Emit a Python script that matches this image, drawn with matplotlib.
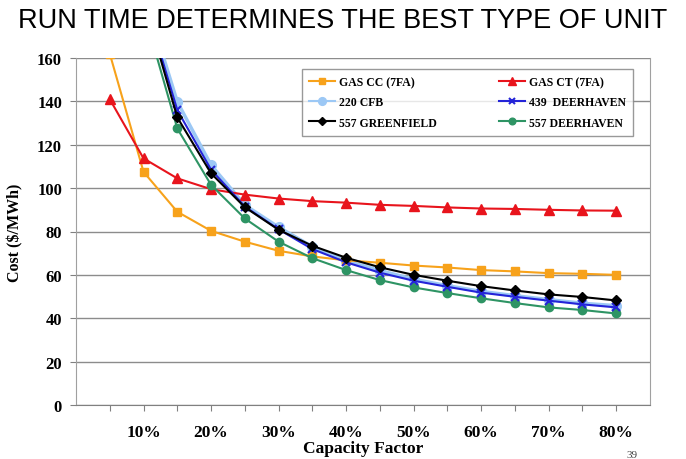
import numpy as np
import matplotlib
matplotlib.use("Agg")
import matplotlib.pyplot as plt

# capacity factor (fraction) and cost in $/MWh
cf_cc = [0.05, 0.10, 0.15, 0.20, 0.25, 0.30, 0.35, 0.40, 0.45, 0.50, 0.55, 0.60, 0.65, 0.70, 0.75, 0.80]
gas_cc = [162, 107.5, 89.1, 80.3, 75.3, 71.1, 68.5, 66.7, 65.6, 64.3, 63.4, 62.2, 61.6, 60.8, 60.5, 60.0]
gas_ct = [141, 113.7, 104.5, 99.5, 97.0, 95.2, 94.0, 93.3, 92.3, 91.8, 91.1, 90.6, 90.4, 90.0, 89.7, 89.6]

cf = [0.10, 0.15, 0.20, 0.25, 0.30, 0.35, 0.40, 0.45, 0.50, 0.55, 0.60, 0.65, 0.70, 0.75, 0.80]
cfb_220 = [190, 139.8, 110.6, 92.2, 82.0, 73.0, 66.5, 62.0, 58.0, 55.0, 52.4, 50.4, 48.6, 46.9, 45.8]
deer_439 = [188, 136.0, 108.5, 91.5, 81.0, 71.9, 65.8, 61.0, 57.3, 54.5, 51.8, 49.9, 48.1, 46.4, 45.0]
green_557 = [187, 132.6, 106.8, 91.2, 80.8, 73.4, 67.9, 63.5, 60.0, 57.3, 54.8, 52.8, 51.0, 49.8, 48.2]
deer_557 = [182, 127.5, 101.5, 86.0, 75.3, 67.7, 62.2, 57.6, 54.2, 51.6, 49.2, 47.0, 45.0, 43.8, 42.2]

xticks = [0.05 * i for i in range(1, 17)]
xlabels = ["%d%%" % round(t * 100) if round(t * 100) % 10 == 0 else "" for t in xticks]

serif = "Liberation Serif"

fig = plt.figure(figsize=(6.86, 4.60), dpi=100)
ax = fig.add_axes([76 / 686, 1 - 406 / 460, (650 - 76) / 686, (406 - 59) / 460])

l_cc, = ax.plot(cf_cc, gas_cc, color="#F7A21B", marker="s", ms=6, lw=1.5, label="GAS CC (7FA)", zorder=3)
l_ct, = ax.plot(cf_cc, gas_ct, color="#E8141C", marker="^", ms=7, lw=1.5, label="GAS CT (7FA)", zorder=3)
l_cfb, = ax.plot(cf, cfb_220, color="#9CC8F5", marker="o", ms=7, lw=2.5, label="220 CFB", zorder=2)
l_d439, = ax.plot(cf, deer_439, color="#2424D8", marker="x", ms=6, mew=1.5, lw=1.5, label="439  DEERHAVEN", zorder=4)
l_g557, = ax.plot(cf, green_557, color="black", marker="D", ms=5, lw=1.5, label="557 GREENFIELD", zorder=4)
l_d557, = ax.plot(cf, deer_557, color="#2E9464", marker="o", ms=6, lw=1.5, label="557 DEERHAVEN", zorder=3)

ax.set_xlim(0, 0.85)
ax.set_ylim(0, 160)
ax.set_yticks(np.arange(0, 161, 20))
ax.set_xticks(xticks)
ax.set_xticklabels(xlabels)
ax.grid(axis="y", color="#8c8c8c", lw=1)
ax.set_axisbelow(True)

for s in ["left", "right", "bottom"]:
    ax.spines[s].set_color("#a0a0a0")
ax.spines["top"].set_visible(False)
ax.spines["bottom"].set_color("#808080")
ax.tick_params(axis="both", colors="#808080", length=4)
ax.tick_params(axis="x", pad=10)
ax.tick_params(axis="y", pad=6)
for lab in ax.get_yticklabels():
    lab.set_fontfamily(serif); lab.set_fontweight("bold"); lab.set_fontsize(12); lab.set_color("black")
for lab in ax.get_xticklabels():
    lab.set_fontfamily(serif); lab.set_fontweight("bold"); lab.set_fontsize(12.5); lab.set_color("black")

ax.set_ylabel("Cost ($/MWh)", fontfamily=serif, fontweight="bold", fontsize=11.5, labelpad=10)
ax.set_xlabel("Capacity Factor", fontfamily=serif, fontweight="bold", fontsize=12.5)
ax.xaxis.set_label_coords(0.5, -0.1)

handles = [l_cc, l_cfb, l_g557, l_ct, l_d439, l_d557]
leg = ax.legend(handles=handles, labels=[h.get_label() for h in handles], ncol=2, loc="upper left",
                bbox_to_anchor=((302 - 76) / 574, (406 - 70) / 347),
                prop={"family": serif, "weight": "bold", "size": 8.5}, frameon=True, fancybox=False,
                edgecolor="#808080", handlelength=2.2, handletextpad=0.3, columnspacing=5.3,
                labelspacing=0.7, borderpad=0.6, borderaxespad=0, markerscale=0.8)
leg.get_frame().set_linewidth(1)
leg.legend_handles[1].set_linewidth(1.5)

fig.text(0.5, 1 - 21 / 460, "RUN TIME DETERMINES THE BEST TYPE OF UNIT", ha="center", va="center",
         fontfamily="Liberation Sans", fontsize=19.5)
fig.text(632 / 686, 1 - 456 / 460, "39", ha="center", va="center", fontfamily=serif, fontsize=8, color="#444444")

fig.savefig("out.png", dpi=100)
